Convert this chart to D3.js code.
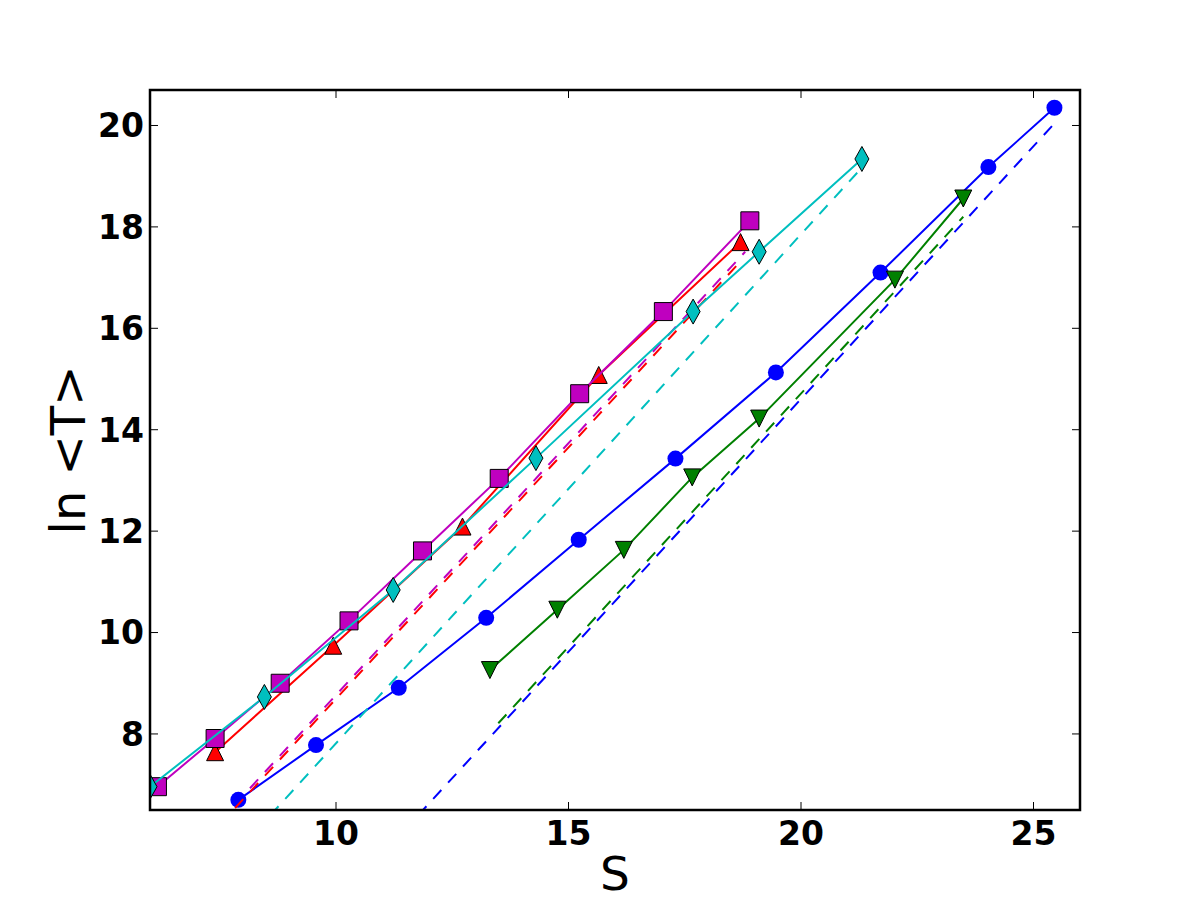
<!DOCTYPE html>
<html>
<head>
<meta charset="utf-8">
<script src="https://cdn.jsdelivr.net/npm/d3@7"></script>
<style>
  body { margin: 0; background: #fff; }
  svg { display: block; }
</style>
</head>
<body>
<div id="chart"></div>
<script>
const width = 1200, height = 900;
const margin = {left: 150, right: 120, top: 90, bottom: 90};

// values
const xTicks = [10, 15, 20, 25];
const yTicks = [8, 10, 12, 14, 16, 18, 20];

const blueS = [7.90, 9.57, 11.35, 13.23, 15.22, 17.30, 19.46, 21.71, 24.03, 25.45];
const blueT = [6.70, 7.78, 8.91, 10.29, 11.83, 13.43, 15.13, 17.10, 19.18, 20.35];

const greenS = [13.31, 14.76, 16.19, 17.66, 19.10, 22.02, 23.49];
const greenT = [9.26, 10.45, 11.63, 13.06, 14.22, 16.96, 18.56];

const redS = [7.40, 9.94, 12.72, 15.65, 18.70];
const redT = [7.64, 9.74, 12.09, 15.08, 17.70];

const magS = [6.16, 7.40, 8.80, 10.28, 11.86, 13.51, 15.24, 17.04, 18.90];
const magT = [6.96, 7.91, 9.00, 10.23, 11.61, 13.04, 14.71, 16.33, 18.12];

const cyanS = [6.00, 8.46, 11.23, 14.30, 17.68, 19.10, 21.31];
const cyanT = [6.96, 8.73, 10.84, 13.44, 16.33, 17.51, 19.34];

// dashed straight lines: end points
const blueFitS = [11.77, 25.45], blueFitT = [6.40, 20.04];
const greenFitS = [13.49, 23.49], greenFitT = [8.21, 18.20];
const redFitS = [7.83, 18.69], redFitT = [6.54, 17.31];
const magFitS = [8.15, 18.80], magFitT = [6.93, 17.51];
const cyanFitS = [8.59, 21.25], cyanFitT = [6.40, 19.11];

const series = [
  {s: blueS, t: blueT, fs: blueFitS, ft: blueFitT, color: "#0000ff", marker: "circle"},
  {s: greenS, t: greenT, fs: greenFitS, ft: greenFitT, color: "#008000", marker: "tridown"},
  {s: redS, t: redT, fs: redFitS, ft: redFitT, color: "#ff0000", marker: "triup"},
  {s: magS, t: magT, fs: magFitS, ft: magFitT, color: "#bf00bf", marker: "square"},
  {s: cyanS, t: cyanT, fs: cyanFitS, ft: cyanFitT, color: "#00bfbf", marker: "diamond"}
];

const svg = d3.select("#chart")
  .append("svg")
  .attr("width", width)
  .attr("height", height);

const x = d3.scaleLinear().domain([6, 26]).range([margin.left, width - margin.right]);
const y = d3.scaleLinear().domain([6.5, 20.7]).range([height - margin.bottom, margin.top]);

svg.append("defs").append("clipPath").attr("id", "plotclip")
  .append("rect")
  .attr("x", margin.left).attr("y", margin.top)
  .attr("width", width - margin.left - margin.right)
  .attr("height", height - margin.top - margin.bottom);

const line = d3.line().x(d => x(d[0])).y(d => y(d[1]));

function markerPath(type) {
  if (type === "circle") return d3.symbol(d3.symbolCircle, Math.PI * 8 * 8)();
  if (type === "square") return "M-9,-9H9V9H-9Z";
  if (type === "triup") return "M0,-8.5L8.5,8.5L-8.5,8.5Z";
  if (type === "tridown") return "M0,8.5L8.5,-8.5L-8.5,-8.5Z";
  if (type === "diamond") return "M0,-12.5L7,0L0,12.5L-7,0Z";
}

const plot = svg.append("g").attr("clip-path", "url(#plotclip)");

for (const sr of series) {
  const g = plot.append("g");
  // dashed line
  g.append("path")
    .datum(d3.zip(sr.fs, sr.ft))
    .attr("d", line)
    .attr("fill", "none")
    .attr("stroke", sr.color)
    .attr("stroke-width", 2)
    .attr("stroke-dasharray", "12,10");
  // solid line
  g.append("path")
    .datum(d3.zip(sr.s, sr.t))
    .attr("d", line)
    .attr("fill", "none")
    .attr("stroke", sr.color)
    .attr("stroke-width", 2);
  // markers
  g.selectAll("path.mk")
    .data(d3.zip(sr.s, sr.t))
    .join("path")
    .attr("class", "mk")
    .attr("transform", d => `translate(${x(d[0])},${y(d[1])})`)
    .attr("d", markerPath(sr.marker))
    .attr("fill", sr.color)
    .attr("stroke", sr.marker === "circle" ? "none" : "#000")
    .attr("stroke-width", 1);
}

// ticks inside on all four sides
const x0 = margin.left, x1 = width - margin.right;
const y0 = height - margin.bottom, y1 = margin.top;
const tickLen = 8;
const tickG = svg.append("g").attr("stroke", "#000").attr("stroke-width", 1);
for (const t of xTicks) {
  tickG.append("line").attr("x1", x(t)).attr("x2", x(t)).attr("y1", y0).attr("y2", y0 - tickLen);
  tickG.append("line").attr("x1", x(t)).attr("x2", x(t)).attr("y1", y1).attr("y2", y1 + tickLen);
}
for (const t of yTicks) {
  tickG.append("line").attr("y1", y(t)).attr("y2", y(t)).attr("x1", x0).attr("x2", x0 + tickLen);
  tickG.append("line").attr("y1", y(t)).attr("y2", y(t)).attr("x1", x1).attr("x2", x1 - tickLen);
}

// frame
svg.append("rect")
  .attr("x", x0).attr("y", y1)
  .attr("width", x1 - x0).attr("height", y0 - y1)
  .attr("fill", "none")
  .attr("stroke", "#000")
  .attr("stroke-width", 2.5);

// tick labels
svg.append("g").selectAll("text")
  .data(xTicks)
  .join("text")
  .attr("x", d => x(d))
  .attr("y", 845)
  .attr("text-anchor", "middle")
  .attr("font-family", "DejaVu Sans")
  .attr("font-weight", "bold")
  .attr("font-size", 33)
  .text(d => d);

svg.append("g").selectAll("text")
  .data(yTicks)
  .join("text")
  .attr("x", 144)
  .attr("y", d => y(d))
  .attr("dy", "0.36em")
  .attr("text-anchor", "end")
  .attr("font-family", "DejaVu Sans")
  .attr("font-weight", "bold")
  .attr("font-size", 33)
  .text(d => d);

// axis labels
svg.append("text")
  .attr("x", (x0 + x1) / 2)
  .attr("y", 890)
  .attr("text-anchor", "middle")
  .attr("font-family", "DejaVu Sans")
  .attr("font-size", 47)
  .text("S");

svg.append("text")
  .attr("transform", `translate(85,${(y0 + y1) / 2}) rotate(-90)`)
  .attr("text-anchor", "middle")
  .attr("font-family", "DejaVu Sans")
  .attr("font-size", 48)
  .text("ln <T>");
</script>
</body>
</html>
